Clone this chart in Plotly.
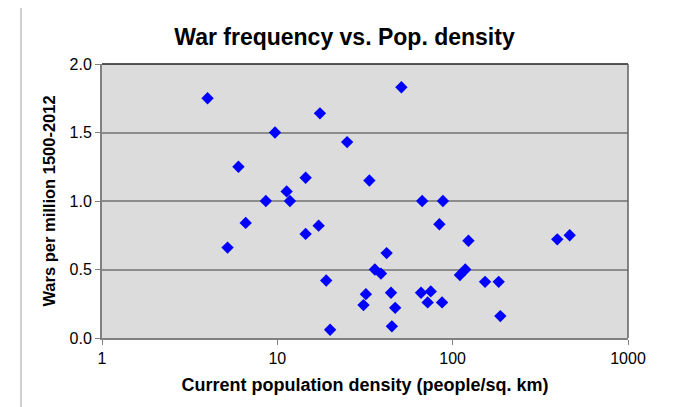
import plotly.graph_objects as go

density = [4.0, 9.7, 6.0, 8.6, 11.3, 11.8, 51, 17.5, 25, 14.5, 33.5, 67, 88,
           14.5, 17.2, 19, 20, 32, 31, 42, 36, 39, 44.5, 47, 45, 66, 75, 72, 87,
           84, 123, 110, 118, 395, 465, 153, 183, 187, 5.2, 6.6]
wars = [1.75, 1.50, 1.25, 1.00, 1.07, 1.00, 1.83, 1.64, 1.43, 1.17, 1.15, 1.00, 1.00,
        0.76, 0.82, 0.42, 0.06, 0.32, 0.24, 0.62, 0.50, 0.47, 0.33, 0.22, 0.085, 0.33, 0.34, 0.26, 0.26,
        0.83, 0.71, 0.46, 0.50, 0.72, 0.75, 0.41, 0.41, 0.16, 0.66, 0.84]

x_ticks = [1, 10, 100, 1000]
x_tick_labels = ["1", "10", "100", "1000"]
y_ticks = [0, 0.5, 1.0, 1.5, 2.0]
y_tick_labels = ["0.0", "0.5", "1.0", "1.5", "2.0"]

FONT = "Liberation Sans, Arial, sans-serif"

# page offset of 8px (body margin)
W, H = 673, 399
L, T = 94, 56
PW, PH = 526, 274

fig = go.Figure()
fig.add_trace(go.Scatter(
    x=density, y=wars, mode="markers",
    marker=dict(symbol="diamond", size=9.5, color="#0000FF", line=dict(width=0)),
    showlegend=False, cliponaxis=False,
))

fig.update_layout(
    width=W, height=H,
    margin=dict(l=L, r=W - L - PW, t=T, b=H - T - PH),
    paper_bgcolor="white",
    plot_bgcolor="#DCDCDC",
    font=dict(family=FONT, color="black", size=16),
    title=dict(text="<b>War frequency vs. Pop. density</b>", x=0.5, xanchor="center",
               y=1 - 29 / H, yanchor="middle",
               font=dict(family=FONT, size=23, color="black")),
    xaxis=dict(
        type="log", range=[0, 3],
        tickvals=x_ticks, ticktext=x_tick_labels,
        showgrid=False, zeroline=False,
        showline=True, linecolor="#808080", linewidth=2,
        ticks="outside", ticklen=5, tickcolor="#808080", tickwidth=1,
        tickfont=dict(size=16, family=FONT),
        title=dict(text="<b>Current population density (people/sq. km)</b>",
                   font=dict(size=18, family=FONT), standoff=12),
    ),
    yaxis=dict(
        range=[0, 2.0],
        tickvals=y_ticks, ticktext=y_tick_labels,
        showgrid=True, gridcolor="#8C8C8C", gridwidth=1.5,
        zeroline=False,
        showline=True, linecolor="#808080", linewidth=2,
        ticks="outside", ticklen=5, tickcolor="#808080", tickwidth=1,
        tickfont=dict(size=16, family=FONT),
        title=dict(text="<b>Wars per million 1500-2012</b>",
                   font=dict(size=16.5, family=FONT), standoff=10),
    ),
    shapes=[
        dict(type="line", xref="paper", yref="paper", x0=0, x1=1, y0=1, y1=1,
             line=dict(color="#202020", width=1.5)),
        dict(type="line", xref="paper", yref="paper", x0=1, x1=1, y0=0, y1=1,
             line=dict(color="#606060", width=1.5)),
        dict(type="rect", xref="paper", yref="paper",
             x0=(13 - L) / PW, x1=(669 - L) / PW,
             y0=(T + PH - 420) / PH, y1=(T + PH + 2) / PH,
             line=dict(color="#A0A0A0", width=1), layer="below"),
    ],
)

fig.write_html("out.html")
